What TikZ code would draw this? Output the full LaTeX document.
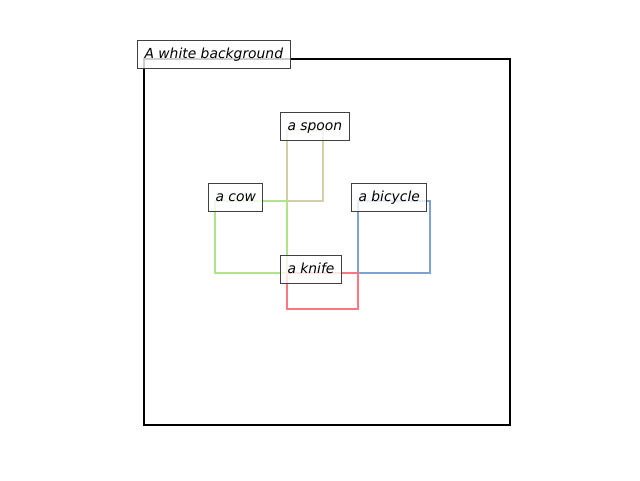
\documentclass[tikz,border=0pt]{standalone}
\usepackage{fontspec}
\setmainfont{DejaVu Sans}
\definecolor{spooncol}{RGB}{212,206,166}
\definecolor{cowcol}{RGB}{176,228,136}
\definecolor{bikecol}{RGB}{126,162,210}
\definecolor{knifecol}{RGB}{255,118,128}
\definecolor{boxedge}{RGB}{64,64,64}
\begin{document}
\begin{tikzpicture}[x=0.75pt,y=-0.75pt,
  lbl/.style={draw=boxedge,line width=0.75pt,fill=white,fill opacity=0.8,text opacity=1,
    anchor=west,inner xsep=5.25pt,inner ysep=0pt,minimum height=21pt,
    text height=8.6pt,text depth=2.4pt,
    font=\fontsize{10.4}{12}\selectfont\itshape},
  region/.style={line width=1.6pt}]
\useasboundingbox (0,0) rectangle (640,480);
\fill[white] (0,0) rectangle (640,480);
\draw[line width=1.6pt] (144,59) rectangle (510,425);
\draw[region,spooncol] (287,130) rectangle (323,201);
\draw[region,bikecol] (358,201) rectangle (430,273);
\draw[region,knifecol] (287,273) rectangle (358,309);
\draw[region,cowcol] (215,201) rectangle (287,273);
\node[lbl] (bg) at (137,54) {A white background};
\node[lbl] (spoon) at (280,126) {a spoon};
\node[lbl] (cow) at (208,197) {a cow};
\node[lbl] (bike) at (351,197) {a bicycle};
\node[lbl] (knife) at (280,269) {a knife};
\end{tikzpicture}
\end{document}
